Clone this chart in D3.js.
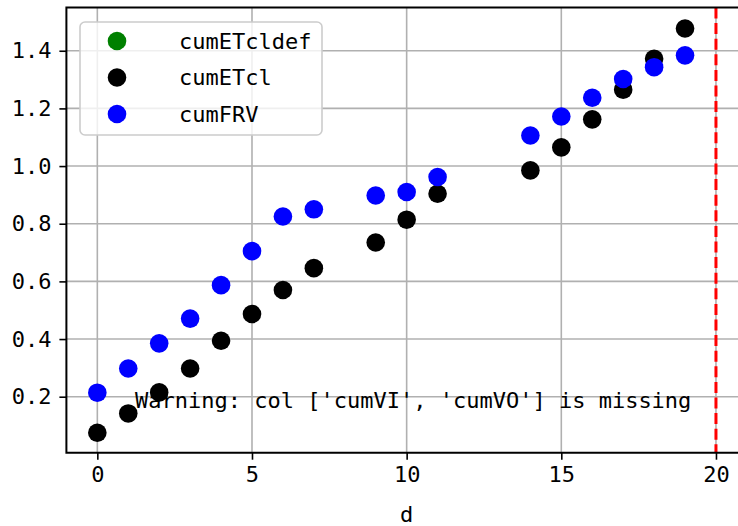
<!DOCTYPE html>
<html>
<head>
<meta charset="utf-8">
<script src="https://cdn.jsdelivr.net/npm/d3@7"></script>
<style>
  body { margin: 0; background: #fff; }
  svg { display: block; }
  text { font-family: "DejaVu Sans Mono", monospace; font-size: 22px; fill: #000; }
</style>
</head>
<body>
<div id="chart"></div>
<script>
const width = 738,
    height = 526;

// data
const days = [0, 1, 2, 3, 4, 5, 6, 7, 9, 10, 11, 14, 15, 16, 17, 18, 19]
const cumETcl = [0.075, 0.142, 0.215, 0.298, 0.394, 0.487, 0.570, 0.646, 0.735, 0.814, 0.904, 0.985, 1.065, 1.162, 1.265, 1.372, 1.477]
const cumFRV = [0.214, 0.298, 0.385, 0.471, 0.587, 0.705, 0.825, 0.850, 0.898, 0.910, 0.962, 1.106, 1.172, 1.237, 1.302, 1.343, 1.384]
const cumETcldef = []
const seriesNames = ["cumETcldef", "cumETcl", "cumFRV"]
const seriesColors = ["#008000", "#000000", "#0000ff"]
const xTicks = [0, 5, 10, 15, 20]
const yTicks = [0.2, 0.4, 0.6, 0.8, 1.0, 1.2, 1.4]
const vLine = 20
const warning = "Warning: col ['cumVI', 'cumVO'] is missing"

const margin = { left: 66.4, top: 7.5, bottom: 452.7, right: 746.9 }

const x = d3.scaleLinear().domain([-1, 21]).range([margin.left, margin.right])
const y = d3.scaleLinear().domain([0.0058, 1.55]).range([margin.bottom, margin.top])

const svg = d3.select("#chart")
    .append("svg")
    .attr("width", width)
    .attr("height", height)

// grid
svg.append("g")
    .selectAll(null)
    .data(xTicks)
    .join("line")
    .attr("x1", d => x(d)).attr("x2", d => x(d))
    .attr("y1", margin.top).attr("y2", margin.bottom)
    .attr("stroke", "#b0b0b0").attr("stroke-width", 1.6)

svg.append("g")
    .selectAll(null)
    .data(yTicks)
    .join("line")
    .attr("x1", margin.left).attr("x2", margin.right)
    .attr("y1", d => y(d)).attr("y2", d => y(d))
    .attr("stroke", "#b0b0b0").attr("stroke-width", 1.6)

// red dashed line
svg.append("line")
    .attr("x1", x(vLine)).attr("x2", x(vLine))
    .attr("y1", margin.top).attr("y2", margin.bottom)
    .attr("stroke", "#ff0000")
    .attr("stroke-width", 3)
    .attr("stroke-dasharray", "11,4.6")

const allSeries = [cumETcldef, cumETcl, cumFRV]
allSeries.forEach(function(vals, k) {
    svg.append("g")
        .selectAll(null)
        .data(vals.map((v, i) => [days[i], v]))
        .join("circle")
        .attr("cx", d => x(d[0]))
        .attr("cy", d => y(d[1]))
        .attr("r", 9.3)
        .attr("fill", seriesColors[k])
})

// warning text
svg.append("text")
    .attr("x", x(1.22))
    .attr("y", y(0.161))
    .text(warning)
    .style("white-space", "pre")

// axes
const xAxis = svg.append("g")
    .attr("transform", `translate(0,${margin.bottom})`)
    .call(d3.axisBottom(x).tickValues(xTicks).tickSize(7).tickPadding(7).tickFormat(d3.format("d")))
const yAxis = svg.append("g")
    .attr("transform", `translate(${margin.left},0)`)
    .call(d3.axisLeft(y).tickValues(yTicks).tickSize(7).tickPadding(8).tickFormat(d3.format(".1f")))

;[xAxis, yAxis].forEach(function(a) {
    a.select(".domain").remove()
    a.selectAll(".tick line").attr("stroke", "#000").attr("stroke-width", 1.6)
    a.selectAll(".tick text").attr("fill", "#000")
        .style("font-family", "DejaVu Sans Mono, monospace").style("font-size", "22px")
})

// spines (left, top, bottom; right is outside the window)
svg.append("path")
    .attr("d", `M${margin.right},${margin.top}H${margin.left}V${margin.bottom}H${margin.right}`)
    .attr("fill", "none")
    .attr("stroke", "#000")
    .attr("stroke-width", 2)

svg.append("text")
    .attr("x", x(10))
    .attr("y", 522)
    .attr("text-anchor", "middle")
    .text("d")

// legend
const legend = svg.append("g")
legend.append("rect")
    .attr("x", 80).attr("y", 22)
    .attr("width", 242).attr("height", 113)
    .attr("rx", 5)
    .attr("fill", "#fff").attr("fill-opacity", 0.8)
    .attr("stroke", "#cccccc").attr("stroke-width", 1.6)

const size = 36.5
legend.selectAll(null)
    .data(seriesNames)
    .join("circle")
    .attr("cx", 117)
    .attr("cy", (d, i) => 41 + i * size)
    .attr("r", 9.3)
    .attr("fill", (d, i) => seriesColors[i])

legend.selectAll(null)
    .data(seriesNames)
    .join("text")
    .attr("x", 179)
    .attr("y", (d, i) => 41 + i * size)
    .attr("dy", "0.36em")
    .text(d => d)
</script>
</body>
</html>
